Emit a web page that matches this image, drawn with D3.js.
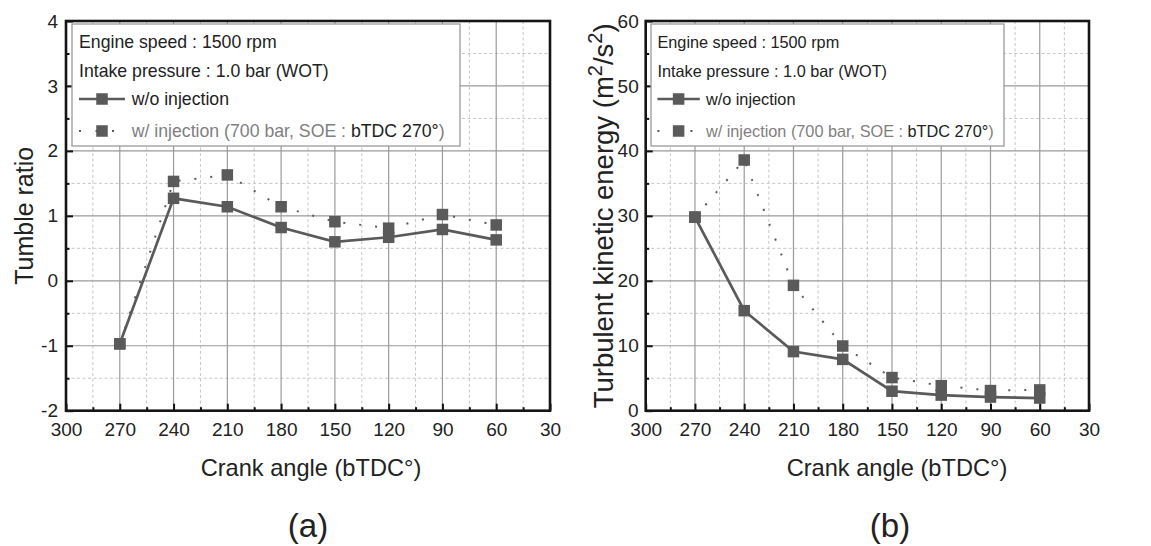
<!DOCTYPE html>
<html lang="en">
<head>
<meta charset="UTF-8">
<title>Tumble ratio and TKE</title>
<script src="https://d3js.org/d3.v7.min.js"></script>
<style>
    body { margin: 0; background: #fff; }
    svg { font-family: "Liberation Sans", Arial, sans-serif; }
    .axis path { display: none; }
    .axis line { stroke: #111; stroke-width: 2px; }
    .axis text { font-size: 19px; fill: #222; font-family: "Liberation Sans", Arial, sans-serif; }
    .grid-major line { stroke: #9a9a9a; stroke-width: 1.2px; }
    .grid-minor line { stroke: #c6c6c6; stroke-width: 1px; stroke-dasharray: 3,2.5; }
</style>
</head>
<body>
<svg id="chart" width="1151" height="546"></svg>
<script>
// crank angle positions (bTDC deg)
const crankAngles = [270, 240, 210, 180, 150, 120, 90, 60];

// (a) tumble ratio
const tumbleNoInj = [-0.97, 1.27, 1.14, 0.82, 0.60, 0.67, 0.79, 0.63];
const tumbleInj   = [-0.97, 1.53, 1.63, 1.14, 0.91, 0.81, 1.02, 0.86];

// (b) turbulent kinetic energy
const tkeNoInj = [29.8, 15.4, 9.1, 7.9, 3.0, 2.4, 2.1, 1.95];
const tkeInj   = [29.8, 38.6, 19.3, 9.96, 5.1, 3.85, 3.1, 3.2];

const xTicks = [300, 270, 240, 210, 180, 150, 120, 90, 60, 30];
const tumbleTicks = [-2, -1, 0, 1, 2, 3, 4];
const tkeTicks = [0, 10, 20, 30, 40, 50, 60];

const legendLines = ["Engine speed : 1500 rpm", "Intake pressure : 1.0 bar (WOT)"];
const seriesNames = ["w/o injection", "w/ injection"];

const lineColor = "#5a5a5a";
const dotted = "2,14";
const sq = 11.5;
const svg = d3.select("#chart");

function drawPanel(opt) {
    const x = d3.scaleLinear().domain([300, 30]).range([opt.left, opt.right]);
    const y = d3.scaleLinear().domain(opt.yDomain).range([opt.bottom, opt.top]);
    const g = svg.append("g");

    // minor grid
    const xMinor = d3.range(285, 30, -30);
    const yMinor = d3.range(opt.yDomain[0] + opt.yMinorStep, opt.yDomain[1], opt.yMinorStep * 2);
    g.append("g").attr("class", "grid-minor")
        .selectAll("line").data(xMinor).enter().append("line")
        .attr("x1", d => x(d)).attr("x2", d => x(d))
        .attr("y1", opt.top).attr("y2", opt.bottom);
    g.append("g").attr("class", "grid-minor")
        .selectAll("line").data(yMinor).enter().append("line")
        .attr("x1", opt.left).attr("x2", opt.right)
        .attr("y1", d => y(d)).attr("y2", d => y(d));

    // major grid
    g.append("g").attr("class", "grid-major")
        .selectAll("line").data(xTicks.slice(1, -1)).enter().append("line")
        .attr("x1", d => x(d)).attr("x2", d => x(d))
        .attr("y1", opt.top).attr("y2", opt.bottom);
    g.append("g").attr("class", "grid-major")
        .selectAll("line").data(opt.yTicks.slice(1, -1)).enter().append("line")
        .attr("x1", opt.left).attr("x2", opt.right)
        .attr("y1", d => y(d)).attr("y2", d => y(d));

    // axes, ticks pointing inward
    g.append("g").attr("class", "axis")
        .attr("transform", `translate(0,${opt.bottom})`)
        .call(d3.axisBottom(x).tickValues(xTicks).tickSize(-7).tickPadding(11.5).tickFormat(d => String(d)));
    g.append("g").attr("class", "axis")
        .attr("transform", `translate(0,${opt.bottom})`)
        .call(d3.axisBottom(x).tickValues(xMinor).tickSize(-3.5).tickFormat(""));
    g.append("g").attr("class", "axis")
        .attr("transform", `translate(${opt.left},0)`)
        .call(d3.axisLeft(y).tickValues(opt.yTicks).tickSize(-7).tickPadding(opt.yPad).tickFormat(d => String(d)));
    g.append("g").attr("class", "axis")
        .attr("transform", `translate(${opt.left},0)`)
        .call(d3.axisLeft(y).tickValues(yMinor).tickSize(-3.5).tickFormat(""));

    // frame
    g.append("rect")
        .attr("x", opt.left).attr("y", opt.top)
        .attr("width", opt.right - opt.left).attr("height", opt.bottom - opt.top)
        .attr("fill", "none").attr("stroke", "#151515").attr("stroke-width", 2.6);

    const line = d3.line().x((d, i) => x(crankAngles[i])).y(d => y(d));

    // w/ injection (dotted)
    g.append("path").datum(opt.inj)
        .attr("d", line).attr("fill", "none")
        .attr("stroke", lineColor).attr("stroke-width", 2)
        .attr("stroke-dasharray", dotted);
    g.append("g").selectAll("rect").data(opt.inj).enter().append("rect")
        .attr("x", (d, i) => x(crankAngles[i]) - sq / 2)
        .attr("y", d => y(d) - sq / 2)
        .attr("width", sq).attr("height", sq).attr("fill", lineColor);

    // w/o injection (solid)
    g.append("path").datum(opt.noInj)
        .attr("d", line).attr("fill", "none")
        .attr("stroke", lineColor).attr("stroke-width", 2.7);
    g.append("g").selectAll("rect").data(opt.noInj).enter().append("rect")
        .attr("x", (d, i) => x(crankAngles[i]) - sq / 2)
        .attr("y", d => y(d) - sq / 2)
        .attr("width", sq).attr("height", sq).attr("fill", lineColor);

    // legend
    const k = opt.legendScale;
    const lg = g.append("g").attr("transform", `translate(${opt.legendX},24)`);
    lg.append("rect").attr("width", opt.legendW).attr("height", 122)
        .attr("fill", "#fff").attr("stroke", "#9a9a9a").attr("stroke-width", 1.3);
    legendLines.forEach((t, i) => {
        lg.append("text").attr("x", 7 * k).attr("y", [24, 52.5][i])
            .attr("font-size", 17.7 * k).attr("fill", "#222").text(t);
    });
    // solid row
    lg.append("line").attr("x1", 7 * k).attr("x2", 53 * k).attr("y1", 75).attr("y2", 75)
        .attr("stroke", lineColor).attr("stroke-width", 2.7);
    lg.append("rect").attr("x", 30 * k - sq / 2).attr("y", 75 - sq / 2)
        .attr("width", sq).attr("height", sq).attr("fill", lineColor);
    lg.append("text").attr("x", 59.7 * k).attr("y", 80.5)
        .attr("font-size", 17.7 * k).attr("fill", "#222").text(seriesNames[0]);
    // dotted row
    lg.append("line").attr("x1", 7 * k).attr("x2", 53 * k).attr("y1", 107).attr("y2", 107)
        .attr("stroke", lineColor).attr("stroke-width", 2).attr("stroke-dasharray", "2,14.5");
    lg.append("rect").attr("x", 30 * k - sq / 2).attr("y", 107 - sq / 2)
        .attr("width", sq).attr("height", sq).attr("fill", lineColor);
    const t4 = lg.append("text").attr("x", 59.7 * k).attr("y", 113)
        .attr("font-size", 17.7 * k).attr("fill", "#808080");
    t4.append("tspan").text(seriesNames[1] + " (700 bar, SOE : ");
    t4.append("tspan").attr("fill", "#222").text("bTDC 270°");
    t4.append("tspan").text(")");

    // axis titles
    g.append("text").attr("x", opt.titleX).attr("y", 476).attr("text-anchor", "middle")
        .attr("font-size", 23.6).attr("fill", "#222").text("Crank angle (bTDC°)");
    g.append("text").attr("x", opt.panelX).attr("y", 537).attr("text-anchor", "middle")
        .attr("font-size", 33).attr("fill", "#222").text(opt.panel);

    const yl = g.append("text")
        .attr("transform", `translate(${opt.yLabelX},${(opt.top + opt.bottom) / 2}) rotate(-90)`)
        .attr("text-anchor", "middle").attr("font-size", opt.yLabelSize).attr("fill", "#222");
    opt.yLabel(yl);
}

drawPanel({
    left: 66, right: 550, top: 21, bottom: 410.7,
    yDomain: [-2, 4], yTicks: tumbleTicks, yMinorStep: 0.5, yPad: 8,
    noInj: tumbleNoInj, inj: tumbleInj,
    legendX: 72, legendW: 388, legendScale: 1,
    panel: "(a)", panelX: 308, titleX: 311, yLabelX: 33, yLabelSize: 25,
    yLabel: t => t.text("Tumble ratio")
});

drawPanel({
    left: 645.7, right: 1089, top: 21, bottom: 410.7,
    yDomain: [0, 60], yTicks: tkeTicks, yMinorStep: 5, yPad: 7,
    noInj: tkeNoInj, inj: tkeInj,
    legendX: 651, legendW: 353, legendScale: 0.92,
    panel: "(b)", panelX: 890, titleX: 897, yLabelX: 613, yLabelSize: 27.5,
    yLabel: t => {
        t.append("tspan").text("Turbulent kinetic energy (m");
        t.append("tspan").attr("dy", -11).attr("font-size", 20).text("2");
        t.append("tspan").attr("dy", 11).text("/s");
        t.append("tspan").attr("dy", -11).attr("font-size", 20).text("2");
        t.append("tspan").attr("dy", 11).text(")");
    }
});
</script>
</body>
</html>
